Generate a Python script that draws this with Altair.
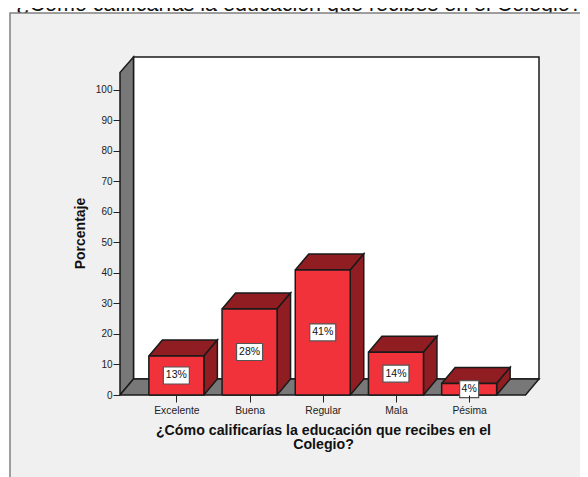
import json
import altair as alt
import pandas as pd

categories = ["Excelente", "Buena", "Regular", "Mala", "Pésima"]
values = [12.8, 28.2, 41.0, 14.0, 3.8]
value_labels = ["13%", "28%", "41%", "14%", "4%"]
y_ticks = [0, 10, 20, 30, 40, 50, 60, 70, 80, 90, 100]
title_text = "¿Cómo calificarías la educación que recibes en el Colegio?"
x_title = ["¿Cómo calificarías la educación que recibes en el", "Colegio?"]
y_title = "Porcentaje"

# plot scale: 73.2 px per category, 3.05 px per percentage point
PX_X, PX_Y = 73.2, 3.05
X0, X1 = -0.77, 4.968
Y1 = 110.8
W, H = 420, 338
DX, DY = 13.5 / PX_X, 16 / PX_Y   # 3-D depth in data units
HALF = 27.5 / PX_X
AXIS_TOP = 105.7
X_FRONT = 4.77

FONT = "Liberation Sans"


def poly(name, pts):
    pts = list(pts) + [pts[0]]
    return [{"face": name, "i": i, "x": p[0], "y": p[1]} for i, p in enumerate(pts)]


back, walls, front, dark = [], [], [], []
back += poly("back", [(X0 + DX, DY), (X_FRONT + DX, DY), (X_FRONT + DX, Y1), (X0 + DX, Y1)])
walls += poly("left", [(X0, 0), (X0, AXIS_TOP), (X0 + DX, Y1), (X0 + DX, DY)])
walls += poly("floor", [(X0, 0), (X_FRONT, 0), (X_FRONT + DX, DY), (X0 + DX, DY)])
boxes = []
for k, v in enumerate(values):
    l, r = k - HALF, k + HALF
    front += poly(f"f{k}", [(l, 0), (r, 0), (r, v), (l, v)])
    dark += poly(f"t{k}", [(l, v), (r, v), (r + DX, v + DY), (l + DX, v + DY)])
    dark += poly(f"s{k}", [(r, 0), (r + DX, DY), (r + DX, v + DY), (r, v)])
    half_w = (9.5 if len(value_labels[k]) == 2 else 13) / PX_X
    half_h = 8.5 / PX_Y
    boxes.append({"x": k - half_w, "x2": k + half_w, "y": v / 2 - half_h, "y2": v / 2 + half_h,
                  "cx": float(k), "cy": v / 2, "label": value_labels[k]})

x_scale = alt.Scale(domain=[X0, X1], nice=False, zero=False)
y_scale = alt.Scale(domain=[0, Y1], nice=False)
label_expr = "%s[datum.value]" % json.dumps(categories, ensure_ascii=False)

x_axis = alt.Axis(values=list(range(len(categories))), labelExpr=label_expr, grid=False, domain=False,
                  tickColor="#222222", tickSize=7, tickWidth=1, labelFont=FONT, labelFontSize=10.3,
                  labelColor="#222222", labelPadding=3, labelOverlap=False, labelFlush=False,
                  title=x_title, titleFont=FONT, titleFontSize=14.2, titleFontWeight="bold",
                  titleColor="#111111", titleX=203, titleY=28, titleAlign="center",
                  titleLineHeight=14.5, zindex=1)
y_axis = alt.Axis(values=y_ticks, grid=False, domain=False, tickColor="#222222", tickSize=7, tickWidth=1,
                  labelFont=FONT, labelFontSize=10, labelColor="#222222", labelPadding=1, labelOverlap=False,
                  title=y_title, titleFont=FONT, titleFontSize=14, titleFontWeight="bold",
                  titleColor="#111111", titleX=-33, titleY=176, zindex=1)

page = alt.Chart(pd.DataFrame({"a": [0]})).mark_rect(fill="#F0F0F0", stroke="#808080", strokeWidth=1.5).encode(
    x=alt.value(-110), x2=alt.value(520), y=alt.value(-44), y2=alt.value(480))

heading = alt.Chart(pd.DataFrame({"t": [title_text]})).mark_text(
    font=FONT, fontSize=21.5, color="#111111", align="center", baseline="alphabetic").encode(
    x=alt.value(179), y=alt.value(-46), text="t:N")


def faces(rows, fill, stroke="#1a1a1a", sw=1.5):
    return alt.Chart(pd.DataFrame(rows)).mark_line(fill=fill, stroke=stroke, strokeWidth=sw).encode(
        x=alt.X("x:Q", scale=x_scale, axis=x_axis),
        y=alt.Y("y:Q", scale=y_scale, axis=y_axis),
        detail="face:N",
        order="i:Q",
    )


bdf = pd.DataFrame(boxes)
label_box = alt.Chart(bdf).mark_rect(fill="white", stroke="#555555", strokeWidth=1.2).encode(
    x=alt.X("x:Q", scale=x_scale, axis=x_axis), x2="x2:Q", y=alt.Y("y:Q", scale=y_scale, axis=y_axis), y2="y2:Q")
label_text = alt.Chart(bdf).mark_text(font=FONT, fontSize=10.5, color="#111111").encode(
    x=alt.X("cx:Q", scale=x_scale, axis=x_axis), y=alt.Y("cy:Q", scale=y_scale, axis=y_axis), text="label:N")

chart = alt.layer(
    heading, page,
    faces(back, "#FFFFFF"),
    faces(walls, "#787878"),
    faces(dark, "#8F1D22"),
    faces(front, "#F2323A"),
    label_box, label_text,
).properties(
    width=W, height=H,
    padding={"left": 112, "top": 49, "right": 40, "bottom": 82},
    autosize=alt.AutoSizeParams(type="none"),
    background="white",
).configure_view(stroke=None)

chart.save("out.html", embed_options={"renderer": "svg", "actions": False})
